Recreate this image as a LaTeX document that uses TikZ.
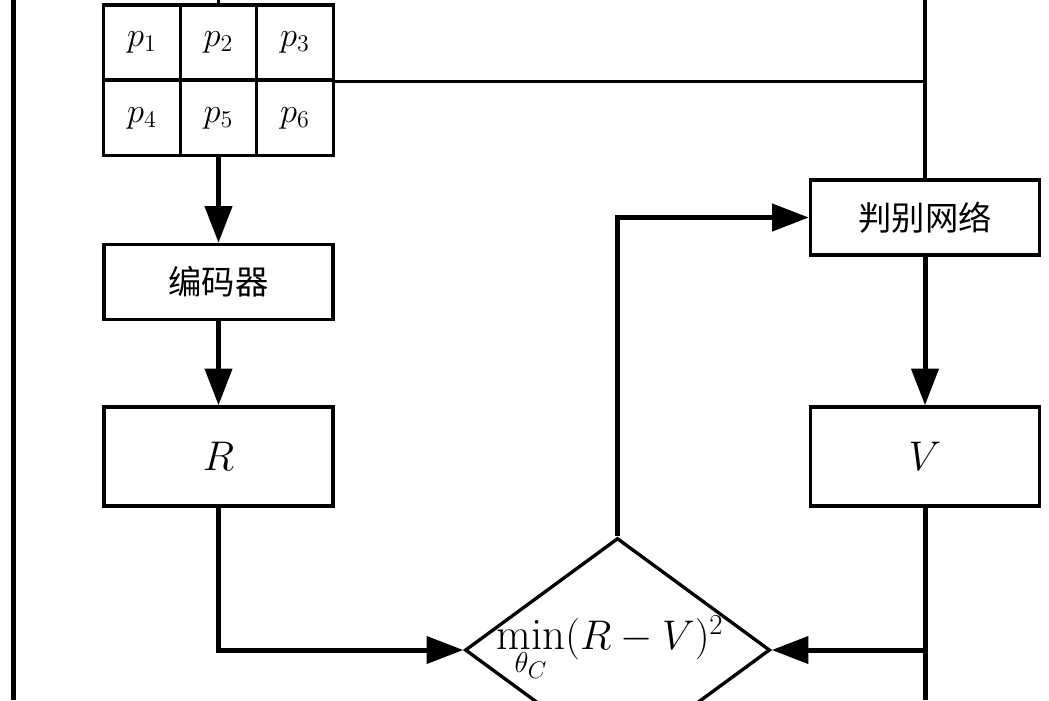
\documentclass[tikz,border=0pt]{standalone}
\usepackage{fontspec}
\newfontfamily\cjk{Noto Sans CJK SC}
\usetikzlibrary{arrows.meta,shapes.geometric}
\begin{document}
\begin{tikzpicture}[x=0.6pt,y=-0.6pt,
  thinline/.style={line width=2pt},
  thickline/.style={line width=3pt},
  flow/.style={line width=3pt,-{Triangle[length=22pt,width=16pt]}},
  cell/.style={draw,line width=2pt,minimum width=45.9pt,minimum height=45pt,inner sep=0pt,font=\fontsize{21}{24}\selectfont},
  wide/.style={draw,line width=2pt,minimum width=137.4pt,minimum height=45pt,inner sep=0pt,font=\cjk\fontsize{20}{24}\selectfont},
  tall/.style={draw,line width=2pt,minimum width=137.4pt,minimum height=59.4pt,inner sep=0pt,font=\fontsize{25}{30}\selectfont},
  decide/.style={draw,diamond,line width=2pt,minimum width=183pt,minimum height=134.4pt,inner sep=0pt}
]
\useasboundingbox (0,0) rectangle (1049,700);
\clip (0,0) rectangle (1049,700);
\fill[white] (0,0) rectangle (1049,700);

% grid
\node[cell] (p1) at (142,42.5) {$p_1$};
\node[cell] (p2) at (218.5,42.5) {$p_2$};
\node[cell] (p3) at (295,42.5) {$p_3$};
\node[cell] (p4) at (142,118) {$p_4$};
\node[cell] (p5) at (218.5,118) {$p_5$};
\node[cell] (p6) at (295,118) {$p_6$};

% boxes
\node[wide] (enc) at (218.5,282) {编码器};
\node[tall] (R) at (218.5,456.5) {$R$};
\node[wide] (disc) at (925,217.5) {判别网络};
\node[tall] (V) at (925,456.5) {$V$};
\node[decide] (dia) at (617.5,650) {};
\node (expr) at (610,648) {\fontsize{27}{31}\selectfont$\min\limits_{\theta_C}(R-V)^2$};

% frame coordinates
\coordinate (lt) at (13,0);
\coordinate (lb) at (13,700);
\coordinate (gt) at (218.5,0);
\coordinate (rt) at (925,0);
\coordinate (rb) at (925,700);

% lines
\draw[thickline] (lt) -- (lb);
\draw[thinline] (gt) -- (p2.north);
\draw[thinline] (p3.south east) -- (p3.south east -| disc.north);
\draw[thinline] (rt) -- (disc.north);
\draw[thickline] (V.south) -- (rb);

% arrows
\draw[flow] (p5.south) -- (enc.north);
\draw[flow] (enc.south) -- (R.north);
\draw[flow] (R.south) |- (dia.west);
\draw[flow] (V.south) |- (dia.east);
\draw[flow] (dia.north) |- (disc.west);
\draw[flow] (disc.south) -- (V.north);
\end{tikzpicture}
\end{document}
